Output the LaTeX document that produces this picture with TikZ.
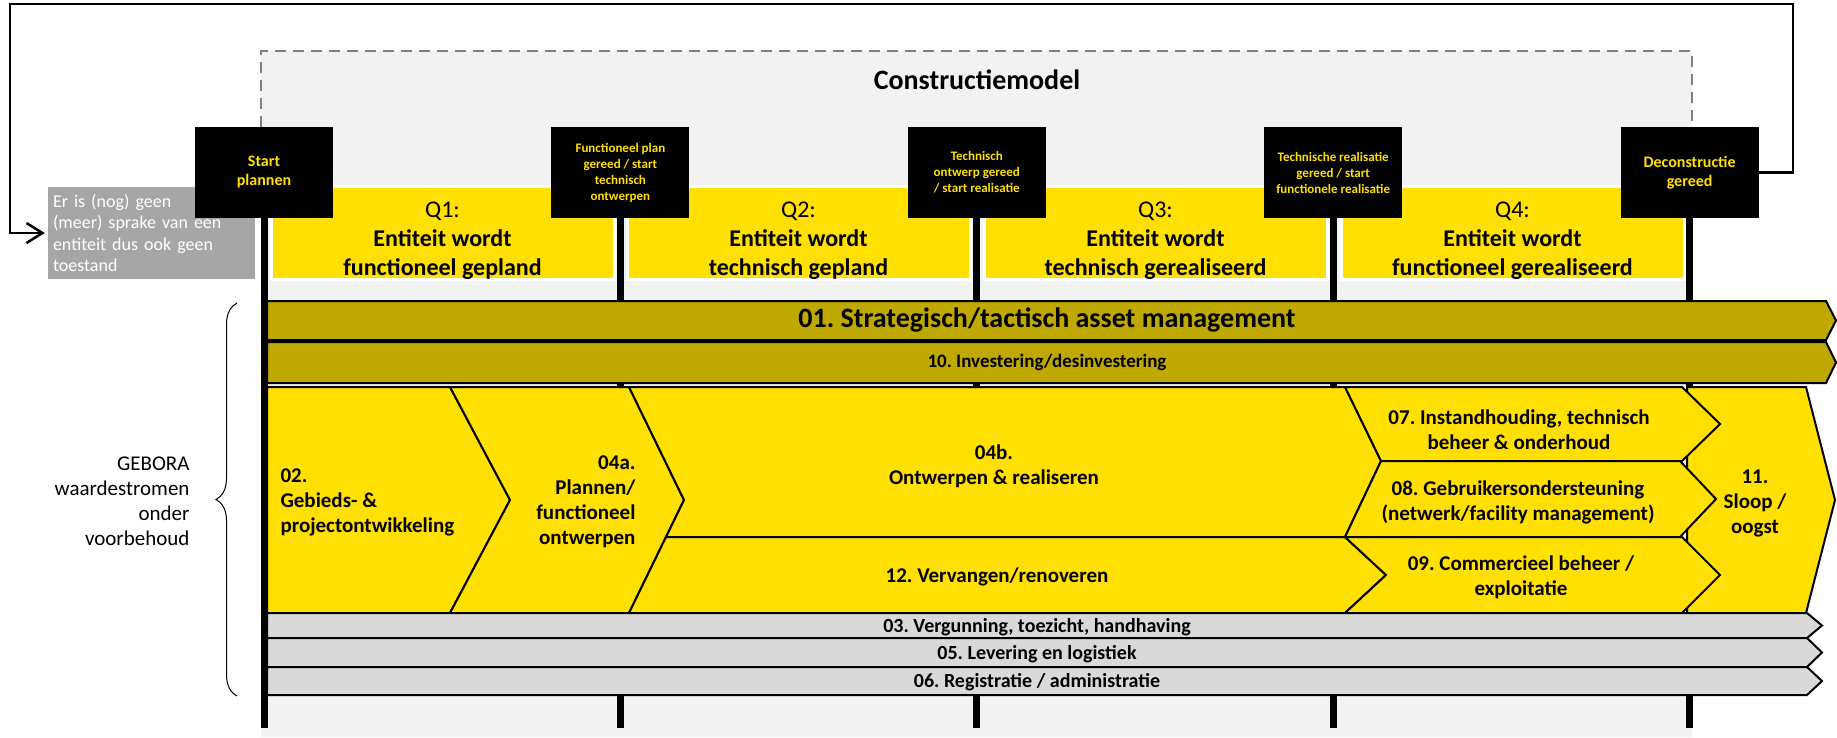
\documentclass[tikz,border=0pt]{standalone}
\usepackage{fontspec}
\setmainfont{Carlito}
\usetikzlibrary{positioning,arrows.meta,decorations.pathreplacing}

\definecolor{geel}{HTML}{FFE000}
\definecolor{olijf}{HTML}{BFA900}
\definecolor{lichtgrijs}{HTML}{F2F2F2}
\definecolor{balkgrijs}{HTML}{D9D9D9}
\definecolor{vakgrijs}{HTML}{A6A6A6}
\definecolor{streepgrijs}{HTML}{808080}

\newcommand{\fsz}[2]{\fontsize{#1}{#2}\selectfont}
\frenchspacing

\begin{document}
\begin{tikzpicture}[x=1pt, y=-1pt, node distance=218pt,
    mijlpaal/.style={fill=black, text=geel, minimum width=138pt, minimum height=91pt, inner sep=2pt, align=center, font=\bfseries\fsz{13}{16}},
    kwartaal/.style={fill=geel, draw=white, line width=3pt, minimum width=343pt, minimum height=93pt},
    qtekst/.style={align=center, font=\fsz{24}{29}},
    paal/.style={line width=7pt},
    balk/.style={draw=black, line width=2pt},
    wtekst/.style={align=center, font=\bfseries\fsz{21}{25}}]
    \useasboundingbox (0,0) rectangle (1837,737);

    % constructiemodel
    \fill[lichtgrijs] (261,51) rectangle (1692,737);
    \draw[streepgrijs, line width=2.5pt, dash pattern=on 11pt off 7pt] (261,127) -- (261,51) -- (1692,51) -- (1692,127);
    \node[font=\bfseries\fsz{28}{34}] (model) at (977,80) {Constructiemodel};

    % kwartalen
    \node[kwartaal] (q1) at (442.5,232.5) {};
    \node[kwartaal] (q2) at (798.5,232.5) {};
    \node[kwartaal] (q3) at (1155.5,232.5) {};
    \node[kwartaal] (q4) at (1512.5,232.5) {};
    \node[qtekst] (q1t) at ([yshift=-8pt]q1.center) {Q1:\\\textbf{Entiteit wordt}\\\textbf{functioneel gepland}};
    \node[qtekst] (q2t) at ([yshift=-8pt]q2.center) {Q2:\\\textbf{Entiteit wordt}\\\textbf{technisch gepland}};
    \node[qtekst] (q3t) at ([yshift=-8pt]q3.center) {Q3:\\\textbf{Entiteit wordt}\\\textbf{technisch gerealiseerd}};
    \node[qtekst] (q4t) at ([yshift=-8pt]q4.center) {Q4:\\\textbf{Entiteit wordt}\\\textbf{functioneel gerealiseerd}};

    \node[fill=vakgrijs, text=white, text width=197pt, minimum height=92pt, inner sep=5pt, align=left, font=\fsz{18}{21.5}] (geen) at (151.5,233) {Er is (nog) geen\\(meer) sprake van een\\entiteit dus ook geen\\toestand};

    % mijlpalen
    \node[mijlpaal, font=\bfseries\fsz{16}{19}] (start) at (264,172.5) {Start\\plannen};
    \node[mijlpaal] (fplan) [right=of start] {Functioneel plan\\gereed / start\\technisch\\ontwerpen};
    \node[mijlpaal] (tontw) [right=of fplan] {Technisch\\ontwerp gereed\\/ start realisatie};
    \node[mijlpaal] (treal) [right=of tontw] {Technische realisatie\\gereed / start\\functionele realisatie};
    \node[mijlpaal, font=\bfseries\fsz{16}{19}] (decon) [right=of treal] {Deconstructie\\gereed};
    \foreach \m in {start,fplan,tontw,treal,decon}
        \draw[paal] (\m.south) -- ++(0,510);

    % waardestromen
    \draw[balk, fill=olijf] (267,301) -- (1826,301) -- (1836,320.5) -- (1826,340) -- (267,340) -- cycle;
    \node[font=\bfseries\fsz{28}{30}] (s01) at (1047,320.5) {01. Strategisch/tactisch asset management};
    \draw[balk, fill=olijf] (267,342) -- (1826,342) -- (1836,362.5) -- (1826,383) -- (267,383) -- cycle;
    \node[font=\bfseries\fsz{19}{23}] (s10) at (1047,362.5) {10. Investering/desinvestering};

    \draw[balk, fill=geel] (267,387) -- (450,387) -- (510,500) -- (450,613) -- (267,613) -- cycle;
    \node[wtekst, anchor=west, align=left] (s02) at (277,502) {02.\\Gebieds- \&\\projectontwikkeling};
    \draw[balk, fill=geel] (450,387) -- (629,387) -- (684,500) -- (629,613) -- (450,613) -- (510,500) -- cycle;
    \node[wtekst, anchor=east, align=right] (s04a) at (639,502) {04a.\\Plannen/\\functioneel\\ontwerpen};
    \draw[balk, fill=geel] (629,387) -- (1345,387) -- (1381,461) -- (1345,537) -- (666,537) -- (684,500) -- cycle;
    \node[wtekst] (s04b) at (994,466) {04b.\\Ontwerpen \& realiseren};
    \draw[balk, fill=geel] (666,537) -- (1345,537) -- (1386,575) -- (1345,613) -- (629,613) -- cycle;
    \node[wtekst] (s12) at (997,577) {12. Vervangen/renoveren};
    \draw[balk, fill=geel] (1687,387) -- (1806,387) -- (1835,500) -- (1806,613) -- (1687,613) -- cycle;
    \node[wtekst] (s11) at (1755,503) {11.\\Sloop /\\oogst};
    \draw[balk, fill=geel] (1345,387) -- (1682,387) -- (1720,424) -- (1682,461) -- (1381,461) -- cycle;
    \node[wtekst] (s07) at (1519,430) {07. Instandhouding, technisch\\beheer \& onderhoud};
    \draw[balk, fill=geel] (1381,461) -- (1680,461) -- (1716,499) -- (1680,537) -- (1345,537) -- cycle;
    \node[wtekst] (s08) at (1518,502) {08. Gebruikersondersteuning\\(netwerk/facility management)};
    \draw[balk, fill=geel] (1345,537) -- (1682,537) -- (1720,575) -- (1682,613) -- (1345,613) -- (1386,575) -- cycle;
    \node[wtekst] (s09) at (1521,577) {09. Commercieel beheer /\\exploitatie};

    \draw[balk, fill=balkgrijs] (267,613) -- (1807,613) -- (1822,625.5) -- (1807,638) -- (267,638) -- cycle;
    \node[font=\bfseries\fsz{20}{24}] (s03) at (1037,627) {03. Vergunning, toezicht, handhaving};
    \draw[balk, fill=balkgrijs] (267,638) -- (1807,638) -- (1822,652.5) -- (1807,667) -- (267,667) -- cycle;
    \node[font=\bfseries\fsz{20}{24}] (s05) at (1037,654) {05. Levering en logistiek};
    \draw[balk, fill=balkgrijs] (267,667) -- (1807,667) -- (1822,681) -- (1807,695) -- (267,695) -- cycle;
    \node[font=\bfseries\fsz{20}{24}] (s06) at (1037,682) {06. Registratie / administratie};

    % terug naar geen toestand
    \coordinate (lusro) at (1793,4);
    \coordinate (luslb) at (10,4);
    \draw[line width=2.5pt, -{Straight Barb[length=16pt,width=20pt]}, shorten >=3pt] (decon.east) -| (lusro) -- (luslb) |- (geen.west);

    \draw[decorate, decoration={brace, amplitude=21pt}, line width=1pt] (237,696) -- (237,303);
    \node[anchor=east, align=right, font=\fsz{21}{25}] (gebora) at (193,501) {GEBORA\\waardestromen\\onder\\voorbehoud};
\end{tikzpicture}
\end{document}
